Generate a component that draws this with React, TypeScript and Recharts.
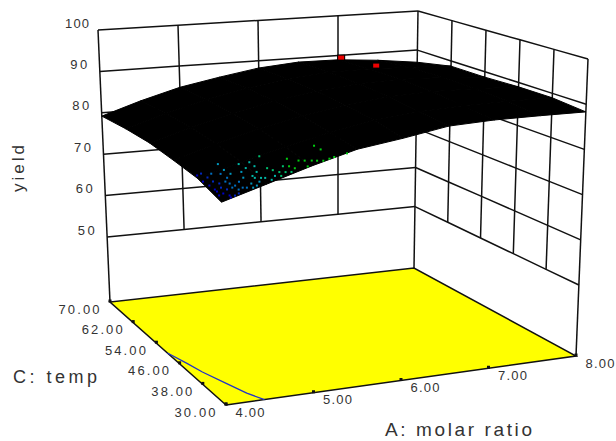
import { Scatter, ScatterChart, XAxis, YAxis } from "recharts";

const molarRatio = [4, 5, 6, 7, 8];
const surfaceRatio = [4, 4.5, 5, 5.5, 6, 6.5, 7, 7.5, 8];
const temp = [70, 62, 54, 46, 38, 30];
const yieldTicks = [100, 90, 80, 70, 60, 50];
const yieldFloor = 34.3;

// yield per temp row (same order as temp), one value per surfaceRatio entry
const surface = [
  [79.2, 82.2, 84.8, 86.6, 88.2, 89.0, 88.9, 88.1, 86.9],
  [79.7, 82.5, 85.0, 87.0, 88.6, 89.4, 89.5, 89.2, 88.7],
  [79.8, 82.5, 85.0, 87.0, 88.6, 89.5, 89.8, 89.4, 88.7],
  [79.2, 82.0, 84.5, 86.5, 88.2, 89.2, 89.6, 89.4, 89.0],
  [78.5, 81.1, 83.5, 85.7, 87.5, 88.5, 89.0, 89.1, 89.0],
  [76.6, 79.4, 82.3, 84.9, 86.3, 88.0, 88.4, 88.4, 88.3],
];

const contourA = [4.0, 4.08, 4.14, 4.25, 4.34, 4.44];
const contourC = [50.2, 45.9, 42.2, 37.3, 33.0, 30.0];

const designA = [7.04, 7.28];
const designC = [70, 66];
const designYield = [89.4, 88.5];

// run markers seen through the surface
const runYield = 76.6;
const runA = [
  5.9, 5.89, 5.37, 5.14, 5.45, 5.51, 5.58, 5.63, 5.69, 5.79, 5.87, 6.07, 5.19, 5.25, 5.43, 5.27, 5.17, 5.11, 5.05, 5.02,
  5.0, 5.0, 4.94, 4.84, 4.81, 4.77, 4.69, 4.71, 4.83, 4.72, 4.91, 4.93, 4.79, 4.79, 4.68, 4.6, 4.49, 4.39, 4.37, 4.36,
  4.27, 4.24, 4.25, 4.14, 4.18, 4.25, 4.35, 4.44, 4.58, 4.54, 4.54, 4.44, 4.14, 4.13, 4.22, 4.25, 4.33, 4.36, 4.43, 4.47,
  4.58, 4.53, 4.6, 4.12, 4.15, 4.18, 4.16, 4.23, 4.3, 4.08,
];
const runC = [
  52.4, 50.3, 47.3, 49.7, 45.9, 45.6, 45.3, 45.0, 44.7, 45.4, 46.0, 47.2, 43.9, 43.6, 42.7, 42.4, 40.8, 41.0, 41.3, 42.5,
  43.7, 39.4, 39.7, 38.0, 39.2, 39.4, 37.7, 39.7, 42.4, 40.7, 45.2, 47.3, 44.7, 46.9, 43.1, 40.3, 38.6, 37.0, 38.2, 39.3,
  38.7, 39.9, 42.0, 40.3, 43.4, 44.1, 43.6, 43.1, 47.8, 44.8, 42.7, 41.0, 38.2, 36.1, 36.7, 35.6, 36.2, 35.0, 35.7, 35.5,
  37.2, 35.2, 36.0, 35.1, 33.9, 32.7, 31.7, 32.4, 33.2, 33.2,
];

const font = "'Liberation Sans', Arial, sans-serif";

// box corners on the page, u = molar ratio, v = temp
const floorBox = { f00: [226, 405], f10: [576, 356], f01: [110, 302], f11: [414, 268] };
const topBox = { f00: [219, 90], f10: [588, 59], f01: [98, 30], f11: [418, 11] };

function corner(box: typeof floorBox, u: number, v: number, i: number) {
  return (
    box.f00[i] * (1 - u) * (1 - v) + box.f10[i] * u * (1 - v) + box.f01[i] * (1 - u) * v + box.f11[i] * u * v
  );
}

function project(a: number, c: number, z: number) {
  const u = (a - 4) / 4;
  const v = (c - 30) / 40;
  const t = (z - yieldFloor) / (100 - yieldFloor);
  const x = corner(floorBox, u, v, 0) * (1 - t) + corner(topBox, u, v, 0) * t;
  const y = corner(floorBox, u, v, 1) * (1 - t) + corner(topBox, u, v, 1) * t;
  return { x, y };
}

function runColor(a: number) {
  if (a < 4.2) return "#0000c8";
  if (a < 4.32) return "#0028c0";
  if (a < 4.5) return "#0070c0";
  if (a < 4.7) return "#0098c0";
  if (a < 5.0) return "#00b8a8";
  if (a < 5.2) return "#00c070";
  return "#00cc10";
}

const noDot = () => <g />;

const wallLines: { x: number; y: number }[][] = [];
yieldTicks.forEach((z) => {
  wallLines.push(molarRatio.map((a) => project(a, 70, z)));
  wallLines.push([...temp].map((c) => project(8, c, z)));
});
molarRatio.forEach((a) => {
  wallLines.push([project(a, 70, a === 4 || a === 8 ? yieldFloor : 50), project(a, 70, 100)]);
});
temp.slice(1).forEach((c) => {
  wallLines.push([project(8, c, c === 30 ? yieldFloor : 50), project(8, c, 100)]);
});

const floorOutline = [
  project(4, 30, yieldFloor),
  project(8, 30, yieldFloor),
  project(8, 70, yieldFloor),
  project(4, 70, yieldFloor),
  project(4, 30, yieldFloor),
];

const surfaceCells: { x: number; y: number }[][] = [];
for (let r = 0; r < temp.length - 1; r++) {
  for (let k = 0; k < surfaceRatio.length - 1; k++) {
    surfaceCells.push([
      project(surfaceRatio[k], temp[r], surface[r][k]),
      project(surfaceRatio[k + 1], temp[r], surface[r][k + 1]),
      project(surfaceRatio[k + 1], temp[r + 1], surface[r + 1][k + 1]),
      project(surfaceRatio[k], temp[r + 1], surface[r + 1][k]),
      project(surfaceRatio[k], temp[r], surface[r][k]),
    ]);
  }
}

const contour = contourA.map((a, i) => project(a, contourC[i], yieldFloor));
const runs = runA.map((a, i) => ({ ...project(a, runC[i], runYield), color: runColor(a) }));
const design = designA.map((a, i) => project(a, designC[i], designYield[i]));

const floorTicks = [
  ...temp.map((c) => project(4, c, yieldFloor)),
  ...molarRatio.map((a) => project(a, 30, yieldFloor)),
];

const tempLabels = temp.map((c) => ({
  ...project(4, c, yieldFloor),
  label: c.toFixed(2),
  dx: -31,
  dy: 7,
  w: 41,
}));
const ratioLabels = molarRatio.map((a) => ({
  ...project(a, 30, yieldFloor),
  label: a.toFixed(2),
  dx: 24,
  dy: 7,
  w: 29,
}));
const yieldLabels = yieldTicks.map((z) => ({
  ...project(4, 70, z),
  label: String(z),
  dx: -21,
  dy: -7,
  w: z === 100 ? 24 : 17,
}));

function tickText(props: any) {
  const { cx, cy, payload } = props;
  return (
    <text
      x={cx + payload.dx}
      y={cy + payload.dy + 4.5}
      textAnchor="middle"
      fontFamily={font}
      fontSize={13}
      fill="#333"
      textLength={payload.w}
      lengthAdjust="spacing"
    >
      {payload.label}
    </text>
  );
}

export default function App() {
  return (
    <div style={{ position: "absolute", left: 0, top: 0, background: "#fff" }}>
      <ScatterChart width={616} height={441} margin={{ top: 0, right: 0, bottom: 0, left: 0 }}>
        <XAxis type="number" dataKey="x" domain={[0, 616]} hide />
        <YAxis type="number" dataKey="y" domain={[0, 441]} reversed hide />
        {wallLines.map((pts, i) => (
          <Scatter
            key={"wall" + i}
            data={pts}
            shape={noDot}
            line={{ stroke: "#111", strokeWidth: 1.5 }}
            isAnimationActive={false}
          />
        ))}
        <Scatter
          data={floorOutline}
          shape={noDot}
          line={{ stroke: "#111", strokeWidth: 1.5, fill: "#ffff00" }}
          isAnimationActive={false}
        />
        <Scatter
          data={contour}
          shape={noDot}
          line={{ stroke: "#2233c8", strokeWidth: 1.3 }}
          isAnimationActive={false}
        />
        <Scatter
          data={floorTicks}
          shape={(p: any) => <rect x={p.cx - 1.5} y={p.cy - 2.5} width={3} height={3} fill="#111" />}
          isAnimationActive={false}
        />
        {surfaceCells.map((pts, i) => (
          <Scatter
            key={"cell" + i}
            data={pts}
            shape={noDot}
            line={{ stroke: "#000", strokeWidth: 1, fill: "#000" }}
            isAnimationActive={false}
          />
        ))}
        <Scatter
          data={runs}
          shape={(p: any) => <rect x={p.cx - 1} y={p.cy - 1} width={2} height={2} fill={p.payload.color} />}
          isAnimationActive={false}
        />
        <Scatter
          data={design.slice(0, 1)}
          shape={(p: any) => <rect x={p.cx - 4} y={p.cy - 3} width={8} height={6} fill="#000" />}
          isAnimationActive={false}
        />
        <Scatter
          data={design}
          shape={(p: any) => <rect x={p.cx - 3} y={p.cy - 2} width={6} height={4} fill="#ee0000" />}
          isAnimationActive={false}
        />
        <Scatter data={tempLabels} shape={tickText} isAnimationActive={false} />
        <Scatter data={ratioLabels} shape={tickText} isAnimationActive={false} />
        <Scatter data={yieldLabels} shape={tickText} isAnimationActive={false} />
        <text x={13} y={383} fontFamily={font} fontSize={18} fill="#333" textLength={84} lengthAdjust="spacing">
          C: temp
        </text>
        <text x={385} y={436} fontFamily={font} fontSize={19} fill="#333" textLength={147} lengthAdjust="spacing">
          A: molar ratio
        </text>
        <text
          transform="translate(24 192) rotate(-90)"
          fontFamily={font}
          fontSize={17}
          fill="#333"
          textLength={47}
          lengthAdjust="spacing"
        >
          yield
        </text>
      </ScatterChart>
    </div>
  );
}
